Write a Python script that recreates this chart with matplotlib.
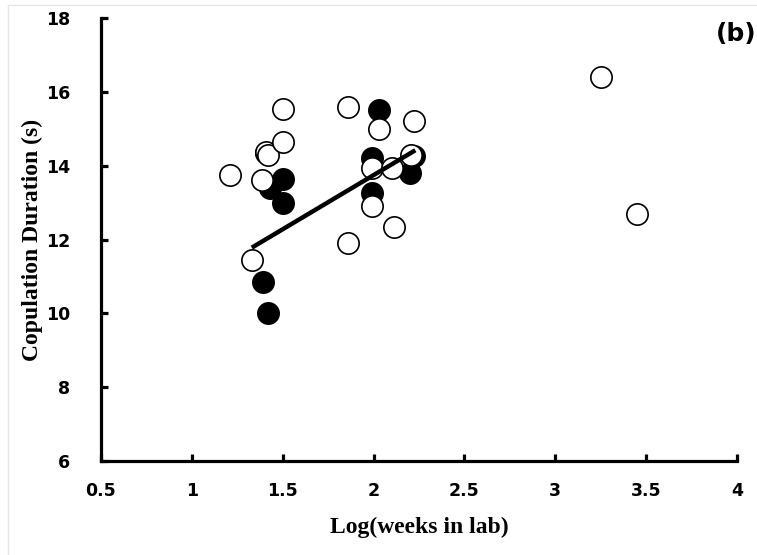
import numpy as np
import matplotlib.pyplot as plt
from matplotlib.lines import Line2D

# filled circles (one group)
filled_x = [1.41, 1.43, 1.50, 1.50, 1.39, 1.42, 2.03, 1.99, 2.22, 2.20, 1.99]
filled_y = [14.35, 13.40, 13.65, 13.00, 10.85, 10.00, 15.50, 14.20, 14.25, 13.80, 13.25]

# open circles (other group)
open_x = [1.21, 1.33, 1.385, 1.41, 1.42, 1.50, 1.50, 1.86, 2.03, 2.22, 1.99, 2.10,
          2.205, 1.99, 2.11, 1.86, 3.25, 3.45]
open_y = [13.75, 11.45, 13.60, 14.36, 14.30, 15.55, 14.65, 15.60, 15.00, 15.20, 13.93,
          13.93, 14.28, 12.90, 12.35, 11.90, 16.40, 12.70]

# fitted line end points
fit_x = [1.33, 2.23]
fit_y = [11.78, 14.42]

x_ticks = [0.5, 1, 1.5, 2, 2.5, 3, 3.5, 4]
x_labels = ["0.5", "1", "1.5", "2", "2.5", "3", "3.5", "4"]
y_ticks = [6, 8, 10, 12, 14, 16, 18]

fig = plt.figure(figsize=(7.57, 5.55), dpi=100)
ax = fig.add_axes([0.1334, 0.1694, 0.8402, 0.798])

ax.scatter(filled_x, filled_y, s=235, facecolor="black", edgecolor="black",
           linewidth=1.2, zorder=2, clip_on=False)
ax.scatter(open_x, open_y, s=235, facecolor="white", edgecolor="black",
           linewidth=1.2, zorder=3, clip_on=False)
ax.plot(fit_x, fit_y, color="black", linewidth=3.2, solid_capstyle="butt", zorder=4)

ax.set_xlim(0.5, 4)
ax.set_ylim(6, 18)
ax.set_xticks(x_ticks)
ax.set_xticklabels(x_labels)
ax.set_yticks(y_ticks)

for side in ["top", "right"]:
    ax.spines[side].set_visible(False)
for side in ["left", "bottom"]:
    ax.spines[side].set_linewidth(2.3)

ax.tick_params(axis="x", direction="in", length=5, width=2.3, pad=15, labelsize=12.5)
ax.tick_params(axis="y", direction="in", length=5, width=2.3, pad=22, labelsize=12.5)
for lab in ax.get_xticklabels() + ax.get_yticklabels():
    lab.set_fontweight("bold")
    lab.set_family("DejaVu Sans")

ax.set_xlabel("Log(weeks in lab)", fontsize=17, fontweight="bold",
              family="Liberation Serif", labelpad=12)
ax.set_ylabel("Copulation Duration (s)", fontsize=17, fontweight="bold",
              family="Liberation Serif", labelpad=2)

fig.text(0.999, 0.938, "(b)", ha="right", va="center", fontsize=18,
         fontweight="bold", family="DejaVu Sans")

# faint frame at the figure edge
fig.add_artist(Line2D([8 / 757, 8 / 757], [0, 1 - 5 / 555], color="#e6e6e6", linewidth=1))
fig.add_artist(Line2D([8 / 757, 1], [1 - 5 / 555, 1 - 5 / 555], color="#e6e6e6", linewidth=1))

fig.savefig("out.png", dpi=100)
